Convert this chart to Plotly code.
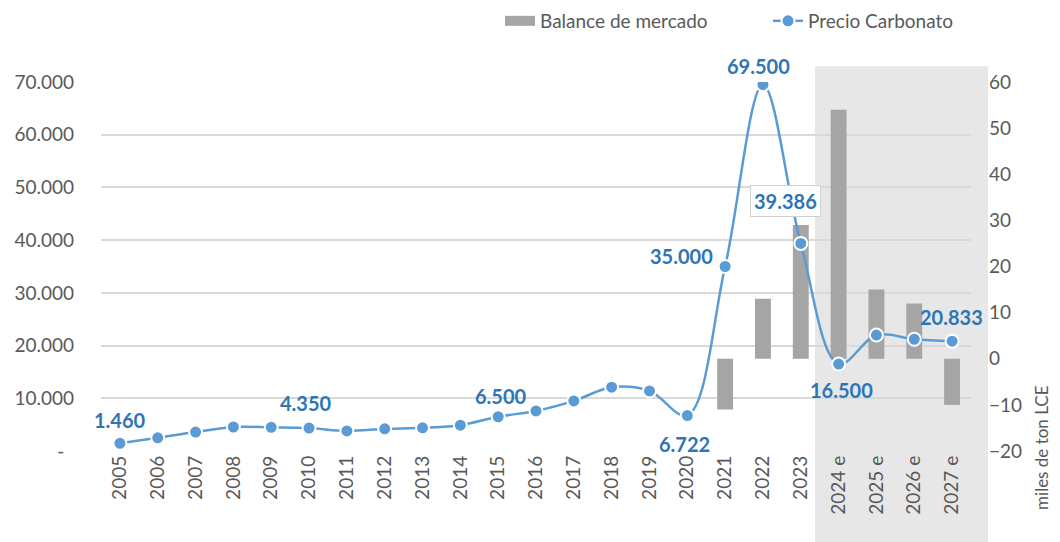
import plotly.graph_objects as go

# categories
years = ["2005", "2006", "2007", "2008", "2009", "2010", "2011", "2012", "2013", "2014",
         "2015", "2016", "2017", "2018", "2019", "2020", "2021", "2022", "2023",
         "2024 e", "2025 e", "2026 e", "2027 e"]

# Precio Carbonato (USD/t), left axis
precio = [1460, 2500, 3600, 4550, 4500, 4350, 3800, 4200, 4400, 4900,
          6500, 7600, 9500, 12100, 11400, 6722, 35000, 69500, 39386,
          16500, 22000, 21200, 20833]

# Balance de mercado (miles de ton LCE), right axis
balance = [None] * 16 + [-11, 13, 29, 54, 15, 12, -10]

# points that carry a data label
label_idx = [0, 5, 10, 15, 16, 17, 18, 19, 22]

left_tickvals = [0, 10000, 20000, 30000, 40000, 50000, 60000, 70000]
left_ticktext = ["-\u00a0\u00a0", "10.000", "20.000", "30.000", "40.000", "50.000", "60.000", "70.000"]
right_tickvals = [-20, -10, 0, 10, 20, 30, 40, 50, 60]

FONT = "Lato"
TICK_COLOR = "#595959"
LINE_COLOR = "#5B9BD5"
LABEL_COLOR = "#2E75B6"
BAR_COLOR = "#A5A5A5"


def fmt(v):
    return f"{v:,.0f}".replace(",", ".")


xpos = list(range(len(years)))

fig = go.Figure()

fig.add_trace(go.Bar(x=xpos, y=balance, name="Balance de mercado",
                     marker=dict(color=BAR_COLOR, line=dict(width=0)),
                     yaxis="y", showlegend=False))

# wide grey swatch for the legend (like the reference)
fig.add_trace(go.Scatter(x=[None], y=[None], mode="lines", name="Balance de mercado",
                         line=dict(color=BAR_COLOR, width=14), yaxis="y"))

fig.add_trace(go.Scatter(x=xpos, y=precio, name="Precio Carbonato",
                         mode="lines+markers", yaxis="y2",
                         line=dict(color=LINE_COLOR, width=2.5, shape="spline", smoothing=1.0),
                         marker=dict(size=13, color=LINE_COLOR, line=dict(color="white", width=2))))

# label offsets (px) for each labelled point
offsets = {0: (0, 23), 5: (-3, 25), 10: (3, 21), 15: (-3, -28), 16: (-44, 11),
           17: (-4, 19), 18: (-15, 42), 19: (3, -26), 22: (-1, 24)}

for i in label_idx:
    dx, dy = offsets[i]
    boxed = i == 18
    fig.add_annotation(x=xpos[i], y=precio[i], xref="x", yref="y2",
                       text="<b>" + fmt(precio[i]) + "</b>", showarrow=False,
                       xshift=dx, yshift=dy,
                       font=dict(family=FONT, size=20, color=LABEL_COLOR),
                       bgcolor="white" if boxed else None,
                       bordercolor="#D0D0D0" if boxed else None,
                       borderwidth=1 if boxed else 0,
                       borderpad=3 if boxed else 0)

# forecast shading
fig.add_shape(type="rect", xref="paper", yref="paper",
              x0=0.8207, x1=1.0195, y0=-0.3, y1=1.043,
              fillcolor="#E7E7E7", line=dict(width=0), layer="below")

fig.add_annotation(text="miles de ton LCE", xref="paper", yref="paper",
                   x=1.0816, y=0.011, xanchor="center", yanchor="middle",
                   textangle=-90, showarrow=False,
                   font=dict(family=FONT, size=17, color=TICK_COLOR))

# page body adds an 8px offset, so the figure is 8px smaller and margins shifted
fig.update_layout(
    width=1052, height=534,
    margin=dict(l=93, r=89, t=74, b=91, autoexpand=False),
    paper_bgcolor="white", plot_bgcolor="rgba(0,0,0,0)",
    font=dict(family=FONT, size=19, color=TICK_COLOR),
    bargap=0.58,
    showlegend=True,
    legend=dict(orientation="h", xref="container", yref="container",
                x=0.4677, xanchor="left", y=0.9757, yanchor="middle",
                entrywidth=223, entrywidthmode="pixels",
                font=dict(family=FONT, size=19, color=TICK_COLOR),
                bgcolor="rgba(0,0,0,0)"),
    xaxis=dict(range=[-0.5, len(years) - 0.5], tickvals=xpos, ticktext=years,
               tickangle=-90, showgrid=False, showline=False, zeroline=False,
               ticks="", automargin=False, tickfont=dict(size=19, color=TICK_COLOR)),
    yaxis=dict(side="right", range=[-20, 60], tickvals=right_tickvals,
               showgrid=False, zeroline=False, showline=False, ticks="", automargin=False,
               ticklabelstandoff=17, tickfont=dict(size=19, color=TICK_COLOR)),
    yaxis2=dict(overlaying="y", side="left", range=[0, 70000],
                tickvals=left_tickvals, ticktext=left_ticktext,
                showgrid=True, gridcolor="#D9D9D9", gridwidth=2,
                zeroline=False, showline=False, ticks="", automargin=False,
                ticklabelstandoff=26, tickfont=dict(size=19, color=TICK_COLOR)),
)

fig.write_html("out.html")
